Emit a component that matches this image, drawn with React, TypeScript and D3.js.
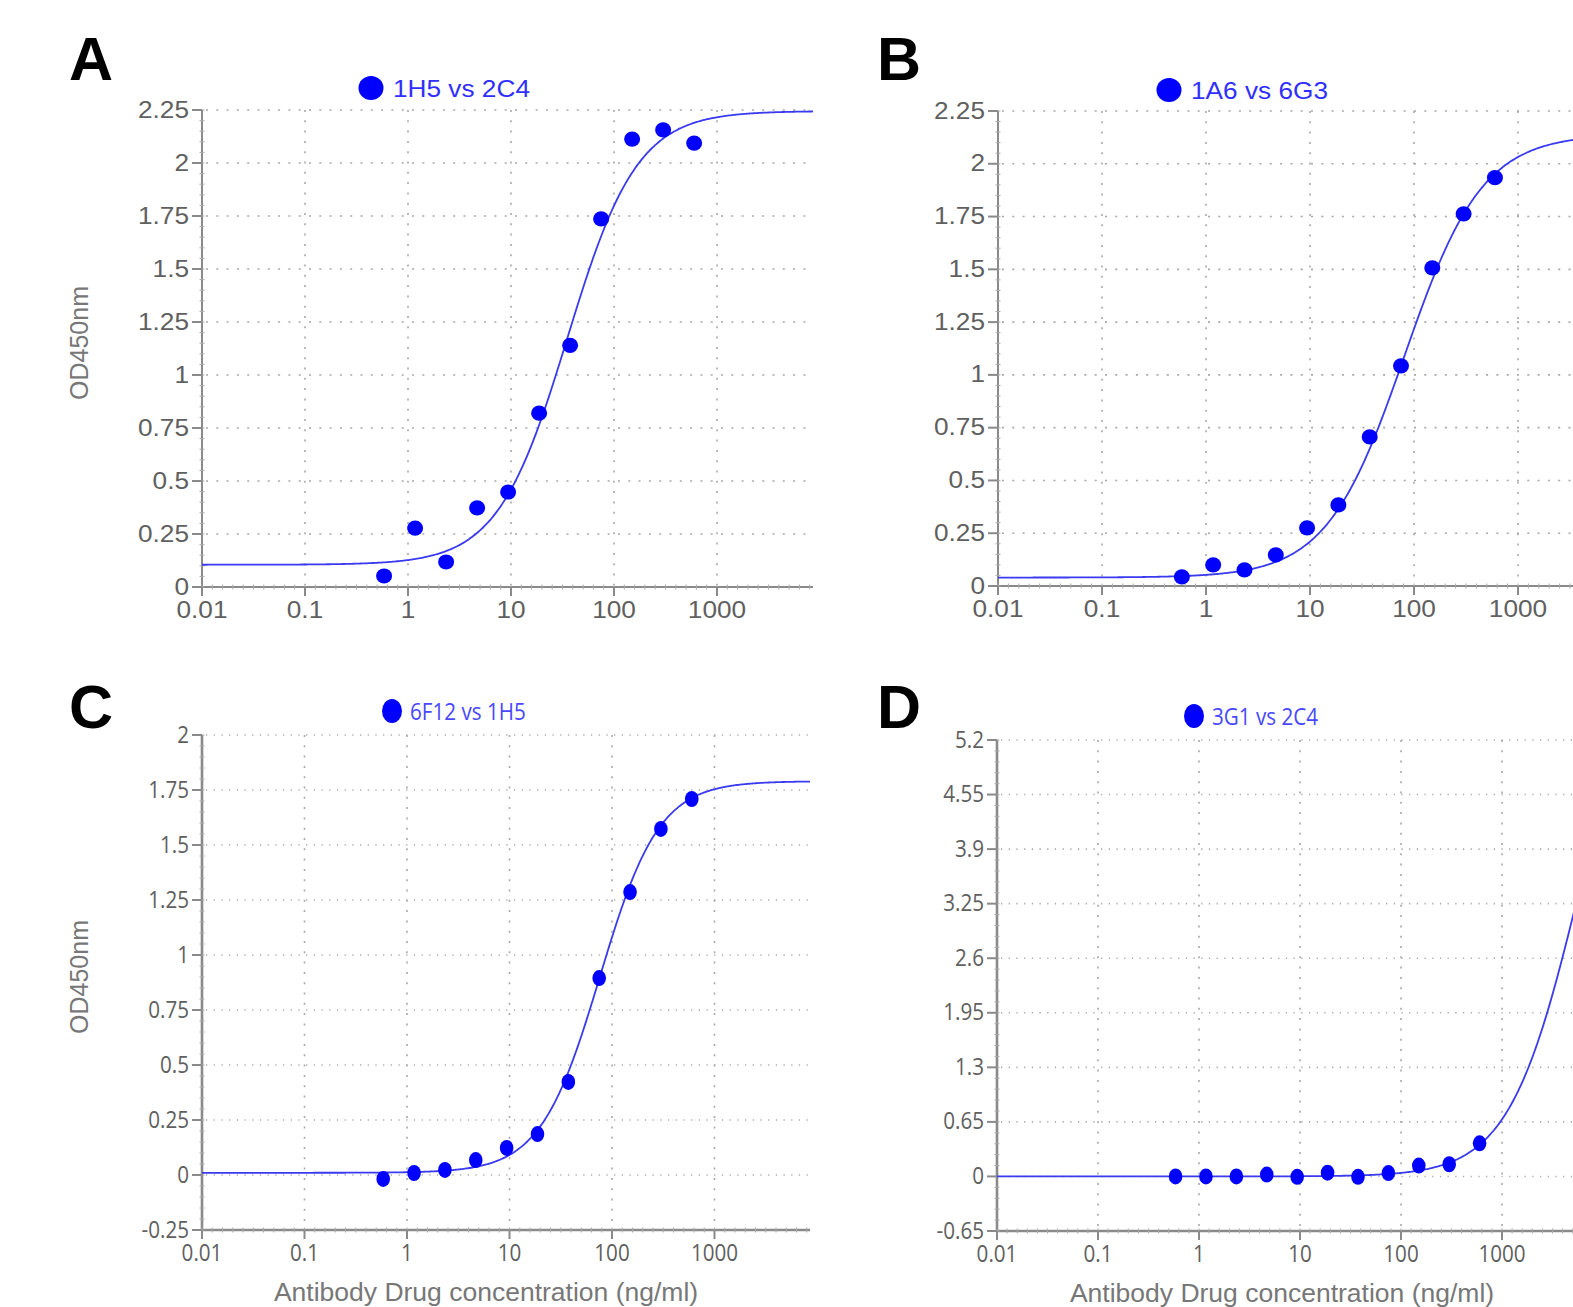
import React from "react";
import * as d3 from "d3";

// ---------- data ----------
const concentrations = [0.586, 1.172, 2.344, 4.688, 9.375, 18.75, 37.5, 75, 150, 300, 600];
const odA = [0.052, 0.278, 0.118, 0.373, 0.448, 0.82, 1.14, 1.736, 2.113, 2.156, 2.094];
const odB = [0.043, 0.1, 0.076, 0.147, 0.275, 0.384, 0.706, 1.043, 1.507, 1.763, 1.934];
const odC = [-0.018, 0.009, 0.023, 0.068, 0.123, 0.186, 0.423, 0.895, 1.286, 1.573, 1.709];
const odD = [0, 0, 0, 0.022, -0.005, 0.045, -0.005, 0.04, 0.13, 0.145, 0.395];

// 4PL fit parameters [bottom, top, EC50, hill]
const fitA = [0.105, 2.245, 35.3, 1.28];
const fitB = [0.04, 2.14, 81, 1.16];
const fitC = [0.01, 1.79, 76, 1.5];
const fitD = [0, 6.8, 5800, 1.25];

const xTickValues = [0.01, 0.1, 1, 10, 100, 1000];
const xTickLabels = ["0.01", "0.1", "1", "10", "100", "1000"];
const xDomain = [0.01, 8550];

const yTicksAB = [0, 0.25, 0.5, 0.75, 1, 1.25, 1.5, 1.75, 2, 2.25];
const yLabelsAB = ["0", "0.25", "0.5", "0.75", "1", "1.25", "1.5", "1.75", "2", "2.25"];
const yTicksC = [-0.25, 0, 0.25, 0.5, 0.75, 1, 1.25, 1.5, 1.75, 2];
const yLabelsC = ["-0.25", "0", "0.25", "0.5", "0.75", "1", "1.25", "1.5", "1.75", "2"];
const yTicksD = [-0.65, 0, 0.65, 1.3, 1.95, 2.6, 3.25, 3.9, 4.55, 5.2];
const yLabelsD = ["-0.65", "0", "0.65", "1.3", "1.95", "2.6", "3.25", "3.9", "4.55", "5.2"];

const panelLetters = ["A", "B", "C", "D"];
const seriesNames = ["1H5 vs 2C4", "1A6 vs 6G3", "6F12 vs 1H5", "3G1 vs 2C4"];
const yTitle = "OD450nm";
const xTitle = "Antibody Drug concentration (ng/ml)";

// ---------- helpers ----------
function fourPL(p: number[], x: number) {
  const [b, t, c, h] = p;
  return b + (t - b) / (1 + Math.pow(c / x, h));
}

function T({ x, y, sx = 1, anchor = "start", size, family, fill, weight, children }: any) {
  return (
    <text
      transform={`translate(${x},${y}) scale(${sx},1)`}
      textAnchor={anchor}
      fontSize={size}
      fontFamily={family}
      fill={fill}
      fontWeight={weight}
    >
      {children}
    </text>
  );
}

type PanelProps = {
  id: string;
  x0: number;
  decade: number;
  top: number;
  bottom: number;
  yTicks: number[];
  yLabels: string[];
  values: number[];
  fit: number[];
  letter: string;
  name: string;
  variant: "arial" | "condensed";
  yTitleY: number | null;
  xTitleX: number | null;
  letterPos: [number, number];
  legendPos: [number, number];
};

function Panel(p: PanelProps) {
  const decades = Math.log10(xDomain[1] / xDomain[0]);
  const x1 = p.x0 + decades * p.decade;
  const x = d3.scaleLog().domain(xDomain).range([p.x0, x1]);
  const yMin = p.yTicks[0];
  const yMax = p.yTicks[p.yTicks.length - 1];
  const y = d3.scaleLinear().domain([yMin, yMax]).range([p.bottom, p.top]);

  const cond = p.variant === "condensed";
  const tickFont = cond ? "'Open Sans', sans-serif" : "'Liberation Sans', Arial, sans-serif";
  const tickSize = cond ? 24 : 23;
  const tickSx = cond ? 0.86 : 1.14;
  const tickColor = "#606060";
  const axisColor = "#8a8a8a";

  const samples = d3.range(0, 401).map((i) => Math.pow(10, Math.log10(xDomain[0]) + (i / 400) * decades));
  const line = d3
    .line<number>()
    .x((d) => x(d))
    .y((d) => y(fourPL(p.fit, d)))
    .curve(d3.curveMonotoneX);

  const step = p.yTicks[1] - p.yTicks[0];
  const yMinor = d3.range(0, Math.round((yMax - yMin) / (step / 5)) + 1).map((i) => yMin + (i * step) / 5);
  const xMinor = d3.range(0, Math.floor(decades * 10) + 1).map((i) => Math.pow(10, -2 + i / 10));

  return (
    <g>
      <defs>
        <clipPath id={`clip-${p.id}`}>
          <rect x={p.x0} y={p.top - 3} width={x1 - p.x0} height={p.bottom - p.top + 3} />
        </clipPath>
      </defs>
      {/* grid */}
      {p.yTicks.slice(1).map((t) => (
        <line
          key={"gy" + t}
          x1={p.x0 + 4}
          x2={x1}
          y1={y(t)}
          y2={y(t)}
          stroke="#a8a8a8"
          strokeWidth={1.6}
          strokeDasharray={cond ? "1.2 6.5" : "2 8.3"}
        />
      ))}
      {xTickValues.slice(1).map((t) => (
        <line
          key={"gx" + t}
          x1={x(t)}
          x2={x(t)}
          y1={p.top}
          y2={p.bottom - 2}
          stroke="#a8a8a8"
          strokeWidth={1.6}
          strokeDasharray="2 8.3"
        />
      ))}
      {/* axes */}
      <line x1={p.x0} x2={p.x0} y1={p.top} y2={p.bottom} stroke={axisColor} strokeWidth={cond ? 2.6 : 2} />
      <line x1={p.x0} x2={x1} y1={p.bottom} y2={p.bottom} stroke={axisColor} strokeWidth={cond ? 2.6 : 2} />
      {yMinor.map((t, i) => (
        <line key={"my" + i} x1={p.x0 - 2.5} x2={p.x0 + 2.5} y1={y(t)} y2={y(t)} stroke="#aaa" strokeWidth={1} />
      ))}
      {xMinor.map((t, i) => (
        <line key={"mx" + i} x1={x(t)} x2={x(t)} y1={p.bottom - 2.5} y2={p.bottom + 2.5} stroke="#aaa" strokeWidth={1} />
      ))}
      {p.yTicks.map((t) => (
        <line key={"ty" + t} x1={p.x0 - 10} x2={p.x0} y1={y(t)} y2={y(t)} stroke={axisColor} strokeWidth={2} />
      ))}
      {xTickValues.map((t) => (
        <line key={"tx" + t} x1={x(t)} x2={x(t)} y1={p.bottom} y2={p.bottom + 9} stroke={axisColor} strokeWidth={2} />
      ))}
      {/* tick labels */}
      {p.yTicks.map((t, i) => (
        <T key={"ly" + t} x={p.x0 - 13} y={y(t) + 7.5} sx={tickSx} anchor="end" size={tickSize} family={tickFont} fill={tickColor}>
          {p.yLabels[i]}
        </T>
      ))}
      {xTickValues.map((t, i) => (
        <T key={"lx" + t} x={x(t)} y={p.bottom + 31} sx={tickSx} anchor="middle" size={tickSize} family={tickFont} fill={tickColor}>
          {xTickLabels[i]}
        </T>
      ))}
      {/* fitted curve */}
      <path d={line(samples) || ""} fill="none" stroke="#3a3aee" strokeWidth={1.8} clipPath={`url(#clip-${p.id})`} />
      {/* points */}
      {concentrations.map((c, i) => (
        <ellipse
          key={"pt" + i}
          cx={x(c)}
          cy={y(p.values[i])}
          rx={cond ? 6.8 : 8}
          ry={cond ? 8 : 7.6}
          fill="#0000ff"
        />
      ))}
      {/* legend */}
      <ellipse cx={p.legendPos[0]} cy={p.legendPos[1]} rx={cond ? 10 : 12.5} ry={12} fill="#0000ff" />
      <T
        x={p.legendPos[0] + (cond ? 18 : 22)}
        y={p.legendPos[1] + 8.5}
        sx={tickSx}
        size={tickSize}
        family={tickFont}
        fill={cond ? "#4848ff" : "#2f2fff"}
      >
        {p.name}
      </T>
      {/* panel letter */}
      <T x={p.letterPos[0]} y={p.letterPos[1]} size={61} family="'Liberation Sans', Arial, sans-serif" fill="#000" weight="bold">
        {p.letter}
      </T>
      {p.yTitleY !== null && (
        <text
          transform={`translate(88,${p.yTitleY}) rotate(-90)`}
          textAnchor="middle"
          fontSize={25}
          fontFamily="'Liberation Sans', Arial, sans-serif"
          fill="#777"
        >
          {yTitle}
        </text>
      )}
      {p.xTitleX !== null && (
        <text
          x={p.xTitleX}
          y={p.bottom + 70.5}
          textAnchor="middle"
          fontSize={26.5}
          fontFamily="'Liberation Sans', Arial, sans-serif"
          fill="#777"
        >
          {xTitle}
        </text>
      )}
    </g>
  );
}

export default function App() {
  return (
    <div style={{ position: "absolute", left: 0, top: 0, width: 1573, height: 1307, overflow: "hidden", background: "#fff" }}>
      <svg width={1573} height={1307} style={{ display: "block" }}>
        <rect width={1573} height={1307} fill="#fff" />
        <Panel
          id="A"
          x0={202}
          decade={103}
          top={110}
          bottom={587}
          yTicks={yTicksAB}
          yLabels={yLabelsAB}
          values={odA}
          fit={fitA}
          letter={panelLetters[0]}
          name={seriesNames[0]}
          variant="arial"
          yTitleY={343}
          xTitleX={null}
          letterPos={[69, 80]}
          legendPos={[371, 88]}
        />
        <Panel
          id="B"
          x0={998}
          decade={104}
          top={111}
          bottom={586}
          yTicks={yTicksAB}
          yLabels={yLabelsAB}
          values={odB}
          fit={fitB}
          letter={panelLetters[1]}
          name={seriesNames[1]}
          variant="arial"
          yTitleY={null}
          xTitleX={null}
          letterPos={[877, 80]}
          legendPos={[1169, 90]}
        />
        <Panel
          id="C"
          x0={202}
          decade={102.5}
          top={735}
          bottom={1230}
          yTicks={yTicksC}
          yLabels={yLabelsC}
          values={odC}
          fit={fitC}
          letter={panelLetters[2]}
          name={seriesNames[2]}
          variant="condensed"
          yTitleY={977}
          xTitleX={486}
          letterPos={[69, 728]}
          legendPos={[392, 711]}
        />
        <Panel
          id="D"
          x0={997}
          decade={101}
          top={740}
          bottom={1231}
          yTicks={yTicksD}
          yLabels={yLabelsD}
          values={odD}
          fit={fitD}
          letter={panelLetters[3]}
          name={seriesNames[3]}
          variant="condensed"
          yTitleY={null}
          xTitleX={1282}
          letterPos={[877, 728]}
          legendPos={[1194, 716]}
        />
      </svg>
    </div>
  );
}
